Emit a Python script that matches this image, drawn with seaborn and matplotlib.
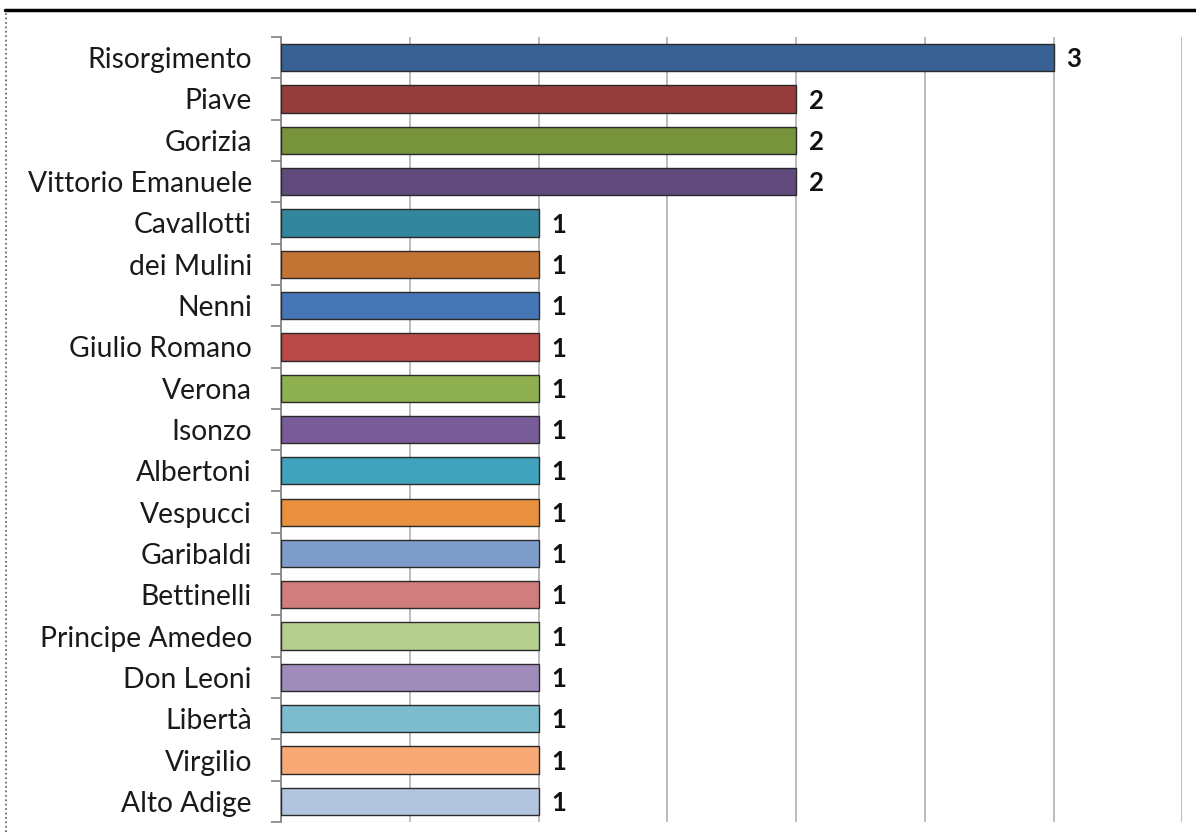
import numpy as np
import matplotlib.pyplot as plt
import seaborn as sns
import pandas as pd
from matplotlib.lines import Line2D

# strade e numero di occorrenze
streets = ['Risorgimento', 'Piave', 'Gorizia', 'Vittorio Emanuele', 'Cavallotti',
           'dei Mulini', 'Nenni', 'Giulio Romano', 'Verona', 'Isonzo', 'Albertoni',
           'Vespucci', 'Garibaldi', 'Bettinelli', 'Principe Amedeo', 'Don Leoni',
           'Libertà', 'Virgilio', 'Alto Adige']
counts = [3, 2, 2, 2, 1, 1, 1, 1, 1, 1, 1, 1, 1, 1, 1, 1, 1, 1, 1]
bar_colors = ['#3A6194', '#943D3C', '#77933C', '#5F4A7B', '#33869B',
              '#C27434', '#4676B5', '#B94A48', '#8FB050', '#775C98',
              '#40A2BC', '#E8903E', '#7F9DCB', '#CF7E7D', '#B5CF8E',
              '#A08CBB', '#7DBCCE', '#F8AA76', '#B3C4DF']

df = pd.DataFrame({'via': streets, 'n': counts})

sns.set_style('white')
plt.rcParams['font.family'] = ['Lato', 'DejaVu Sans']

fig = plt.figure(figsize=(11.96, 8.32), dpi=100)
ax = fig.add_axes([0.235, 0.012, 0.7535, 0.9435])

sns.barplot(data=df, y='via', x='n', hue='via', palette=bar_colors,
            saturation=1, legend=False, orient='h', width=0.66, ax=ax,
            edgecolor='#2a2a2a', linewidth=1.0, zorder=3)

ax.set_xlim(0, 3.5)
ax.set_ylim(len(streets) - 0.5, -0.5)
ax.set_xticks(np.arange(0, 3.51, 0.5))
ax.set_xticklabels([])
ax.tick_params(axis='x', length=0)
ax.grid(axis='x', color='#b0b0b0', linewidth=1.2, zorder=0)
ax.set_xlabel('')
ax.set_ylabel('')

# etichette asse y e tacche fra le categorie
ax.tick_params(axis='y', which='major', left=False, length=0, pad=21,
               labelsize=20.3, labelcolor='#1a1a1a')
ax.set_yticks(np.arange(-0.5, len(streets), 1), minor=True)
ax.tick_params(axis='y', which='minor', left=True, length=7, color='#808080', width=1.2)

for s in ['top', 'right', 'bottom']:
    ax.spines[s].set_visible(False)
ax.spines['left'].set_color('#808080')
ax.spines['left'].set_linewidth(1.2)

for i, v in enumerate(counts):
    ax.text(v + 0.05, i + 0.04, str(v), va='center', ha='left', fontsize=18.5,
            fontweight='bold', color='#111111')

# cornice dell'immagine
fig.add_artist(Line2D([0.004, 1], [0.988, 0.988], color='black', linewidth=2.5,
                      transform=fig.transFigure))
fig.add_artist(Line2D([0.005, 0.005], [0, 0.988], color='#555555', linewidth=1.2,
                      linestyle=':', transform=fig.transFigure))

fig.savefig('out.png', dpi=100)
